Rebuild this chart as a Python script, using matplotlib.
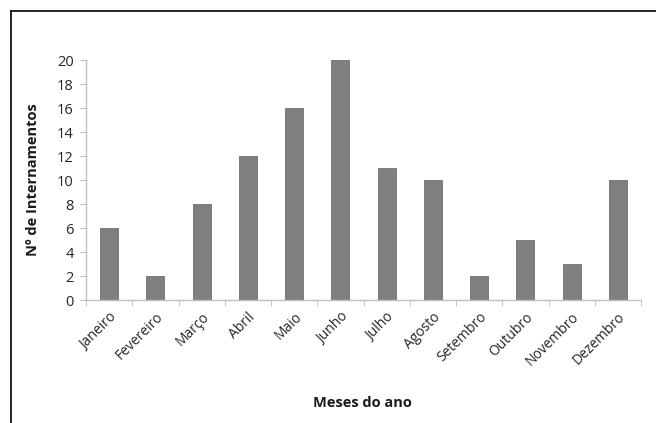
import matplotlib.pyplot as plt
import numpy as np
from matplotlib.lines import Line2D

# Monthly hospitalisations
months = ['Janeiro', 'Fevereiro', 'Março', 'Abril', 'Maio', 'Junho',
          'Julho', 'Agosto', 'Setembro', 'Outubro', 'Novembro', 'Dezembro']
internamentos = [6, 2, 8, 12, 16, 20, 11, 10, 2, 5, 3, 10]

plt.rcParams['font.family'] = ['Open Sans', 'DejaVu Sans']

fig = plt.figure(figsize=(6.56, 4.23), dpi=100)
W, H = 656, 423
ax = fig.add_axes([86 / W, 1 - 300 / H, 555 / W, 240 / H])

x = np.arange(len(months))
ax.bar(x, internamentos, width=0.39, color='#808080', edgecolor='#6e6e6e', linewidth=0.6)

ax.set_xlim(-0.5, len(months) - 0.5)
ax.set_ylim(0, 20)
ax.set_yticks(np.arange(0, 21, 2))
ax.set_xticks(x)
ax.set_xticklabels(months, rotation=45, ha='right', rotation_mode='anchor', fontsize=10, color='#262626')
ax.tick_params(axis='x', length=0, pad=7)
ax.tick_params(axis='y', labelsize=10.5, colors='#bfbfbf', labelcolor='#262626', length=4, direction='out', pad=5)

# category separator ticks on x axis
ax.set_xticks(np.arange(-0.5, len(months)), minor=True)
ax.tick_params(axis='x', which='minor', length=4, color='#bfbfbf', direction='out')

for s in ['top', 'right']:
    ax.spines[s].set_visible(False)
for s in ['left', 'bottom']:
    ax.spines[s].set_color('#bfbfbf')
    ax.spines[s].set_linewidth(1.0)

fig.text(33 / W, 1 - 180 / H, 'Nº de Internamentos', rotation=90, ha='center', va='center',
         fontsize=10.5, fontweight='bold', color='#1a1a1a')
fig.text(362 / W, 1 - 403 / H, 'Meses do ano', ha='center', va='center',
         fontsize=10.5, fontweight='bold', color='#1a1a1a')

# outer frame (left and top only)
fig.add_artist(Line2D([11 / W, 11 / W], [0, 1 - 11 / H], color='black', linewidth=1.2, transform=fig.transFigure))
fig.add_artist(Line2D([11 / W, 1], [1 - 11 / H, 1 - 11 / H], color='black', linewidth=1.2, transform=fig.transFigure))

fig.savefig('out.png', dpi=100)
